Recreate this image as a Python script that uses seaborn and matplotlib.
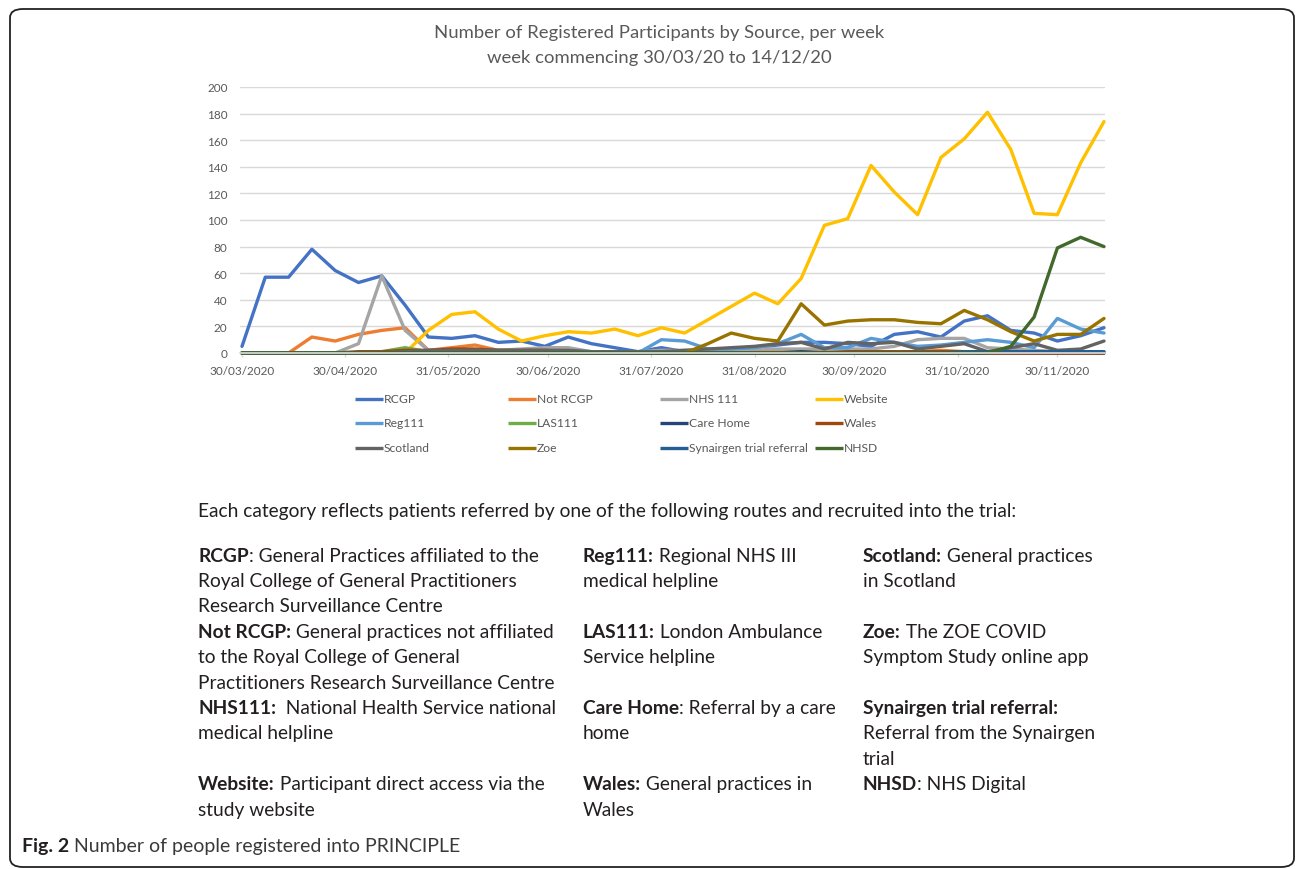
import numpy as np
import pandas as pd
import matplotlib
matplotlib.use("Agg")
import matplotlib.pyplot as plt
import matplotlib.dates as mdates
from matplotlib.patches import FancyBboxPatch
from matplotlib.lines import Line2D
import seaborn as sns

# weekly registrations, week commencing 30/03/20 .. 14/12/20
weeks = pd.date_range("2020-03-30", "2020-12-14", freq="7D")

rcgp = [5, 57, 57, 78, 62, 53, 58, 36, 12, 11, 13, 8, 9, 5, 12, 7, 4, 1, 4, 1,
        1, 2, 4, 6, 8, 8, 7, 5, 14, 16, 12, 24, 28, 17, 15, 9, 13, 19]
not_rcgp = [0, 0, 0, 12, 9, 14, 17, 19, 2, 4, 6, 2, 2, 2, 3, 0, 0, 0, 0, 0,
            0, 0, 1, 2, 1, 1, 2, 1, 1, 1, 2, 1, 1, 1, 1, 1, 1, 0]
nhs111 = [0, 0, 0, 0, 0, 7, 58, 17, 2, 2, 2, 2, 3, 4, 4, 1, 1, 1, 2, 2,
          2, 2, 3, 3, 3, 3, 3, 3, 5, 10, 11, 11, 4, 3, 2, 1, 1, 1]
website = [0, 0, 0, 0, 0, 0, 0, 0, 17, 29, 31, 18, 9, 13, 16, 15, 18, 13, 19, 15,
           25, 35, 45, 37, 56, 96, 101, 141, 121, 104, 147, 161, 181, 153, 105, 104, 143, 174]
reg111 = [0, 0, 0, 0, 0, 0, 0, 0, 0, 0, 0, 0, 0, 0, 0, 0, 1, 0, 10, 9,
          3, 3, 4, 7, 14, 4, 4, 11, 8, 5, 6, 8, 10, 8, 4, 26, 18, 15]
las111 = [0, 0, 0, 0, 0, 0, 1, 4, 1, 0, 0, 0, 0, 0, 0, 0, 0, 0, 0, 0,
          0, 0, 0, 0, 0, 0, 0, 0, 0, 0, 0, 0, 0, 0, 0, 0, 0, 0]
care_home = [0, 0, 0, 0, 0, 0, 0, 0, 0, 0, 0, 0, 0, 0, 0, 0, 0, 0, 0, 0,
             0, 0, 0, 0, 1, 0, 0, 0, 0, 0, 0, 0, 0, 0, 0, 0, 0, 0]
wales = [0, 0, 0, 0, 0, 1, 1, 2, 2, 3, 3, 2, 2, 2, 1, 1, 1, 1, 0, 0,
         0, 0, 0, 0, 0, 0, 1, 1, 1, 1, 1, 1, 0, 0, 0, 0, 0, 0]
scotland = [0, 0, 0, 0, 0, 0, 0, 1, 2, 2, 2, 2, 2, 2, 2, 1, 1, 1, 1, 2,
            3, 4, 5, 7, 8, 3, 8, 7, 8, 3, 5, 7, 1, 4, 7, 2, 3, 9]
zoe = [0, 0, 0, 0, 0, 0, 0, 0, 0, 0, 0, 0, 0, 0, 0, 0, 0, 0, 0, 0,
       7, 15, 11, 9, 37, 21, 24, 25, 25, 23, 22, 32, 25, 16, 9, 14, 14, 26]
synairgen = [0, 0, 0, 0, 0, 0, 0, 0, 0, 0, 0, 0, 0, 0, 0, 0, 0, 0, 0, 0,
             0, 0, 0, 0, 0, 0, 0, 0, 0, 0, 0, 1, 1, 1, 1, 1, 1, 1]
nhsd = [0, 0, 0, 0, 0, 0, 0, 0, 0, 0, 0, 0, 0, 0, 0, 0, 0, 0, 0, 0,
        0, 0, 0, 0, 0, 0, 0, 0, 0, 0, 0, 0, 0, 5, 27, 79, 87, 80]

sources = ["RCGP", "Not RCGP", "NHS 111", "Website", "Reg111", "LAS111",
           "Care Home", "Wales", "Scotland", "Zoe", "Synairgen trial referral", "NHSD"]
series = [rcgp, not_rcgp, nhs111, website, reg111, las111,
          care_home, wales, scotland, zoe, synairgen, nhsd]
colours = ["#4472C4", "#ED7D31", "#A5A5A5", "#FFC000", "#5B9BD5", "#70AD47",
           "#264478", "#9E480E", "#636363", "#997300", "#255E91", "#43682B"]
palette = dict(zip(sources, colours))

tick_dates = ["2020-03-30", "2020-04-30", "2020-05-31", "2020-06-30", "2020-07-31",
              "2020-08-31", "2020-09-30", "2020-10-31", "2020-11-30"]

df = pd.DataFrame({"week": weeks})
for name, vals in zip(sources, series):
    df[name] = vals
df = df.melt(id_vars="week", var_name="source", value_name="n")

# notes under the chart: (column x, row y, bold part, plain part)
notes = [
    (198, 556, "RCGP", ": General Practices affiliated to the"),
    (198, 581, "", "Royal College of General Practitioners"),
    (198, 606, "", "Research Surveillance Centre"),
    (198, 632, "Not RCGP:", " General practices not affiliated"),
    (198, 657, "", "to the Royal College of General"),
    (198, 683, "", "Practitioners Research Surveillance Centre"),
    (198, 708, "NHS111:", "  National Health Service national"),
    (198, 733, "", "medical helpline"),
    (198, 784, "Website:", " Participant direct access via the"),
    (198, 810, "", "study website"),
    (583, 556, "Reg111:", " Regional NHS III"),
    (583, 581, "", "medical helpline"),
    (583, 632, "LAS111:", " London Ambulance"),
    (583, 657, "", "Service helpline"),
    (583, 708, "Care Home", ": Referral by a care"),
    (583, 733, "", "home"),
    (583, 784, "Wales:", " General practices in"),
    (583, 810, "", "Wales"),
    (863, 556, "Scotland:", " General practices"),
    (863, 581, "", "in Scotland"),
    (863, 632, "Zoe:", " The ZOE COVID"),
    (863, 657, "", "Symptom Study online app"),
    (863, 708, "Synairgen trial referral:", ""),
    (863, 733, "", "Referral from the Synairgen"),
    (863, 759, "", "trial"),
    (863, 784, "NHSD", ": NHS Digital"),
]

sns.set_theme(style="white")
plt.rcParams["font.family"] = ["Lato", "DejaVu Sans"]

W, H = 1296, 870
fig = plt.figure(figsize=(W / 100, H / 100), dpi=100)
fx = lambda px: px / W
fy = lambda py: 1 - py / H

ax = fig.add_axes([fx(240), fy(354), fx(1105) - fx(240), fy(88) - fy(354)])
sns.lineplot(data=df, x="week", y="n", hue="source", hue_order=sources,
             palette=palette, lw=2.4, legend=False, ax=ax)
for ln in ax.lines:
    ln.set_clip_on(False)
    ln.set_solid_joinstyle("round")

ax.set_ylim(0, 200)
ax.set_yticks(range(0, 201, 20))
ax.set_xlim(weeks[0] - pd.Timedelta(days=0.6), weeks[-1] + pd.Timedelta(days=0.3))
ax.set_xticks(pd.to_datetime(tick_dates))
ax.xaxis.set_major_formatter(mdates.DateFormatter("%d/%m/%Y"))
ax.grid(axis="y", color="#D9D9D9", lw=1)
ax.set_axisbelow(True)
for s in ["top", "right", "left"]:
    ax.spines[s].set_visible(False)
ax.spines["bottom"].set_color("#D9D9D9")
ax.tick_params(axis="x", length=3, width=1, color="#D9D9D9", labelsize=8.5,
               labelcolor="#595959", pad=6, bottom=True)
ax.tick_params(axis="y", length=0, labelsize=8.5, labelcolor="#595959", pad=9)
ax.set_xlabel("")
ax.set_ylabel("")

fig.text(fx(659), fy(33), "Number of Registered Participants by Source, per week",
         ha="center", va="center", size=13.3, color="#595959")
fig.text(fx(659), fy(58), "week commencing 30/03/20 to 14/12/20",
         ha="center", va="center", size=13.3, color="#595959")

# legend, laid out in a 4 x 3 grid like the original
leg_x = [355, 508, 660, 815]
leg_y = [400, 424, 449]
for k, name in enumerate(sources):
    x0 = leg_x[k % 4]
    y0 = leg_y[k // 4]
    fig.add_artist(Line2D([fx(x0), fx(x0 + 28)], [fy(y0), fy(y0)],
                          color=palette[name], lw=2.4, solid_capstyle="butt"))
    fig.text(fx(x0 + 29), fy(y0), name, ha="left", va="center",
             size=8.7, color="#595959")

body = 13.8
ink = "#231F20"
fig.text(fx(198), fy(517), "Each category reflects patients referred by one of the "
         "following routes and recruited into the trial:", size=body,
         va="baseline", color=ink)

for x0, y0, lead, rest in notes:
    if not lead:
        fig.text(fx(x0), fy(y0 + 6), rest, size=body, va="baseline", color=ink)
        continue
    t = fig.text(fx(x0), fy(y0 + 6), lead, size=body, weight="bold",
                 va="baseline", color=ink)
    if rest:
        ax.annotate(rest, xy=(1, 0), xycoords=t, ha="left", va="bottom",
                    size=body, color=ink, annotation_clip=False)

cap = fig.text(fx(22), fy(852), "Fig. 2", size=14, weight="bold",
               va="baseline", color=ink)
ax.annotate(" Number of people registered into PRINCIPLE", xy=(1, 0), xycoords=cap,
            ha="left", va="bottom", size=14, color="#3a3a3a", annotation_clip=False)

fig.add_artist(FancyBboxPatch((fx(10), fy(868)), fx(1294) - fx(10), fy(10) - fy(868),
                              boxstyle="round,pad=0,rounding_size=0.01",
                              transform=fig.transFigure, fill=False,
                              ec="#222222", lw=1.3))

fig.savefig("out.png", dpi=100)
